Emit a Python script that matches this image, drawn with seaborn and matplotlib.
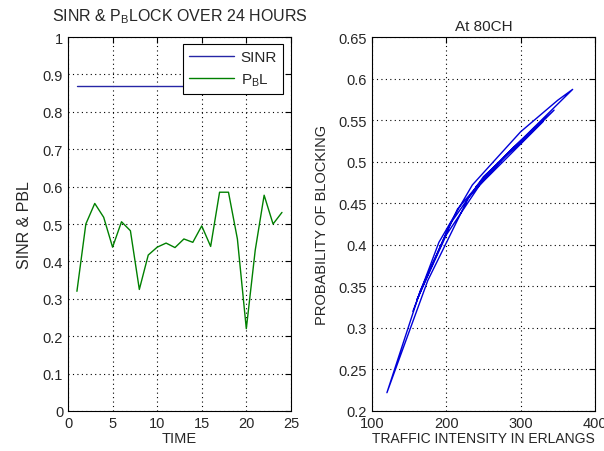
import pandas as pd
import numpy as np
import matplotlib
matplotlib.use("Agg")
import matplotlib.pyplot as plt
import seaborn as sns

# hourly data for the left panel
hours = list(range(1, 25))
sinr = [0.87] * 24
pbl = [0.32, 0.50, 0.555, 0.518, 0.438, 0.506, 0.482, 0.325, 0.417, 0.438,
       0.449, 0.437, 0.460, 0.451, 0.495, 0.440, 0.585, 0.585, 0.460, 0.220,
       0.430, 0.577, 0.500, 0.531]

# traffic vs blocking for the right panel (80 channels)
traffic = [155, 190, 235, 300, 350, 370, 320, 260, 215, 165, 120, 175,
           230, 290, 345, 310, 250, 205, 160, 200, 245, 330, 280, 240]
blocking = [0.320, 0.403, 0.472, 0.536, 0.574, 0.587, 0.543, 0.490, 0.443, 0.345,
            0.222, 0.357, 0.457, 0.517, 0.562, 0.531, 0.482, 0.425, 0.333, 0.412,
            0.472, 0.548, 0.508, 0.470]

sns.set_style("white")
plt.rcParams["font.family"] = ["Liberation Sans", "DejaVu Sans"]
plt.rcParams["mathtext.fontset"] = "custom"
plt.rcParams["mathtext.rm"] = "Liberation Sans"
plt.rcParams["mathtext.it"] = "Liberation Sans"
plt.rcParams["font.size"] = 10.5

df_left = pd.DataFrame({"Hour": hours, "SINR": sinr, "PBL": pbl})
df_right = pd.DataFrame({"Traffic": traffic, "Blocking": blocking})

fig = plt.figure(figsize=(6.04, 4.52), dpi=100)
ax1 = fig.add_axes([0.1126, 0.0885, 0.369, 0.8274])
ax2 = fig.add_axes([0.616, 0.0885, 0.369, 0.8274])

sns.lineplot(data=df_left, x="Hour", y="SINR", ax=ax1, color=(0.15, 0.15, 0.65),
             linewidth=1, label="SINR")
sns.lineplot(data=df_left, x="Hour", y="PBL", ax=ax1, color=(0.0, 0.5, 0.0),
             linewidth=1, label="P$_{\\rm B}$L")
ax1.set_xlim(0, 25)
ax1.set_ylim(0, 1)
ax1.set_xticks([0, 5, 10, 15, 20, 25])
ax1.set_yticks(np.arange(0, 1.01, 0.1))
ax1.set_yticklabels(["0", "0.1", "0.2", "0.3", "0.4", "0.5", "0.6", "0.7", "0.8", "0.9", "1"])
ax1.set_xlabel("TIME", fontsize=10.5, labelpad=1)
ax1.set_ylabel("SINR & PBL", fontsize=11.5, labelpad=8)
ax1.set_title("SINR & P$_{\\rm B}$LOCK OVER 24 HOURS", fontsize=11.5, pad=12)
leg = ax1.legend(loc="upper right", bbox_to_anchor=(0.965, 0.982), fancybox=False,
                 framealpha=1, edgecolor="black", handlelength=2.9, handletextpad=0.45,
                 borderpad=0.4, borderaxespad=0.0, labelspacing=0.5, fontsize=11)
leg.get_frame().set_linewidth(0.8)

sns.lineplot(data=df_right, x="Traffic", y="Blocking", ax=ax2, sort=False,
             estimator=None, color=(0.0, 0.0, 0.85), linewidth=1)
ax2.set_xlim(100, 400)
ax2.set_ylim(0.2, 0.65)
ax2.set_xticks([100, 200, 300, 400])
ax2.set_yticks(np.arange(0.2, 0.651, 0.05))
ax2.set_yticklabels(["0.2", "0.25", "0.3", "0.35", "0.4", "0.45", "0.5", "0.55", "0.6", "0.65"])
ax2.set_xlabel("TRAFFIC INTENSITY IN ERLANGS", fontsize=10, labelpad=1)
ax2.set_ylabel("PROBABILITY OF BLOCKING", fontsize=10.5, labelpad=7)
ax2.set_title("At 80CH", fontsize=11, pad=5)

for ax in (ax1, ax2):
    ax.grid(True, linestyle=(0, (1, 3)), color="black", linewidth=0.8)
    ax.tick_params(direction="in", length=4, top=True, right=True, labelsize=10.5,
                   color="black")
    for s in ax.spines.values():
        s.set_color("black")
        s.set_linewidth(0.8)
        s.set_visible(True)

fig.savefig("out.png", dpi=100)
